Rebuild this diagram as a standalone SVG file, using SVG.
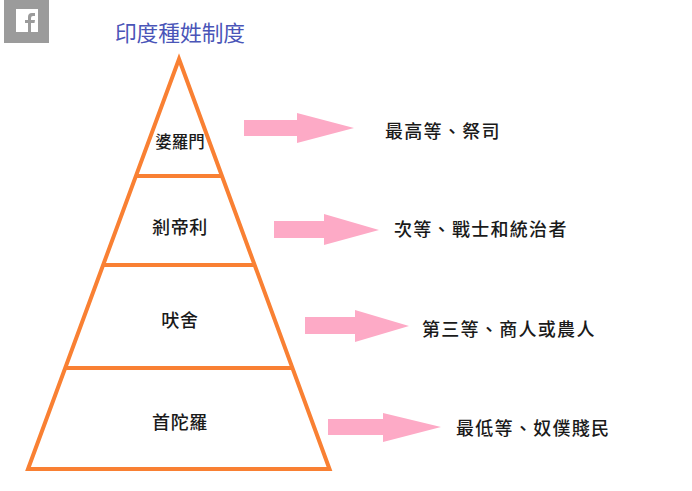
<svg xmlns="http://www.w3.org/2000/svg" width="692" height="491" viewBox="0 0 692 491">
<style>
text{font-family:"Noto Sans CJK TC","Liberation Sans",sans-serif;fill:#1a1a1a;font-weight:500}
.l{font-size:18px;letter-spacing:1.3px}
.n{font-size:18px;letter-spacing:.7px;text-anchor:middle}
.a{fill:#fdaac6}
.p{fill:none;stroke:#f98033;stroke-width:4}
</style>
<rect width="692" height="491" fill="#fff"/>
<g id="fb"><rect x="4" y="0" width="45" height="43" fill="#9b9b9b"/><rect x="16" y="9" width="22" height="23" fill="#fff"/><path d="M28 32V23h-3v-3h3v-3q0-4 4-4h3v3h-2q-2 0-2 2v2h4l-.5 3H31v9z" fill="#9b9b9b"/></g>
<text id="title" x="180" y="41" text-anchor="middle" style="font-size:21.7px;fill:#4a55b8;font-weight:400">印度種姓制度</text>
<g id="pyramid">
<path class="p" d="M179 59L329.500 469H28Z"/>
<path class="p" d="M136 176H222M103.500 265H255M66 368H293"/>
</g>
<g id="n1"><text class="n" x="180" y="148" style="font-size:16.500px;letter-spacing:0">婆羅門</text></g>
<g id="n2"><text class="n" x="180" y="234">剎帝利</text></g>
<g id="n3"><text class="n" x="180" y="327">吠舍</text></g>
<g id="n4"><text class="n" x="180" y="429">首陀羅</text></g>
<g id="connectors">
<path class="a" d="M244 120H297V113L354 128L297 143V136H244Z"/>
<path class="a" d="M274 221H324V214L379 230L324 245V238H274Z"/>
<path class="a" d="M305 317H355V310L409 326L355 342V334H305Z"/>
<path class="a" d="M328 419H383V413L441 427L383 442V435H328Z"/>
</g>
<g id="l1"><text class="l" x="385" y="138">最高等、祭司</text></g>
<g id="l2"><text class="l" x="394" y="236">次等、戰士和統治者</text></g>
<g id="l3"><text class="l" x="422" y="336">第三等、商人或農人</text></g>
<g id="l4"><text class="l" x="456" y="435">最低等、奴僕賤民</text></g>
</svg>
